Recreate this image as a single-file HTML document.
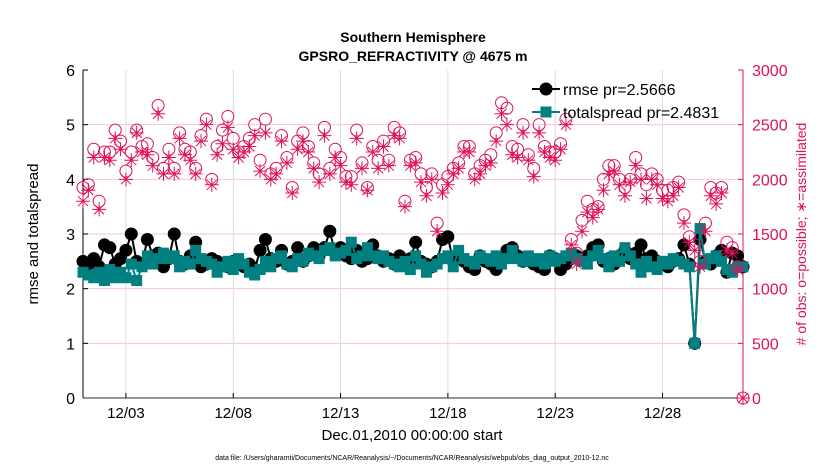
<!DOCTYPE html>
<html><head><meta charset="utf-8"><style>
body{margin:0;background:#fff;}
svg{font-family:"Liberation Sans",sans-serif;}
</style></head><body>
<svg id="chart" width="830" height="470">
<text x="413" y="42" font-size="14" font-weight="bold" text-anchor="middle">Southern Hemisphere</text>
<text x="413" y="61" font-size="14" font-weight="bold" text-anchor="middle">GPSRO_REFRACTIVITY @ 4675 m</text>
<g id="grid"></g><g id="axes"></g><g id="series"></g><g id="legend"></g>
<text transform="translate(38,234) rotate(-90)" font-size="15" text-anchor="middle">rmse and totalspread</text>
<text transform="translate(806,234) rotate(-90)" font-size="14" fill="#e0105a" text-anchor="middle"># of obs: o=possible; ∗=assimilated</text>
<text x="412" y="440" font-size="15" text-anchor="middle">Dec.01,2010 00:00:00 start</text>
<text x="412" y="460" font-size="7" text-anchor="middle">data file: /Users/gharamti/Documents/NCAR/Reanalysis/~/Documents/NCAR/Reanalysis/webpub/obs_diag_output_2010-12.nc</text>
</svg>
<script>
const xTickDays=[2,7,12,17,22,27];
const xTickLabels=["12/03","12/08","12/13","12/18","12/23","12/28"];
const yTicksLeft=[0,1,2,3,4,5,6];
const yTicksRight=[0,500,1000,1500,2000,2500,3000];
const rmse=[2.5,2.45,2.55,2.4,2.8,2.75,2.45,2.55,2.7,3.0,2.5,2.45,
2.9,2.6,2.65,2.4,2.55,3.0,2.5,2.45,2.6,2.85,2.4,2.45,
2.55,2.5,2.45,2.4,2.5,2.45,2.4,2.45,2.35,2.7,2.9,2.55,
2.5,2.7,2.45,2.5,2.75,2.5,2.6,2.75,2.6,2.75,3.05,2.65,
2.75,2.6,2.55,2.7,2.5,2.55,2.8,2.6,2.5,2.55,2.45,2.6,
2.45,2.55,2.85,2.5,2.45,2.4,2.5,2.9,2.95,2.5,2.55,2.5,
2.4,2.35,2.6,2.5,2.45,2.35,2.55,2.7,2.75,2.6,2.5,2.55,
2.45,2.4,2.35,2.6,2.55,2.35,2.45,2.55,2.6,2.55,2.6,2.75,
2.8,2.5,2.55,2.45,2.6,2.7,2.55,2.65,2.8,2.55,2.6,2.5,
2.45,2.4,2.5,2.55,2.8,2.45,1.0,2.9,2.5,2.45,2.6,2.7,2.3,2.65,2.6,2.4];
const spread=[2.3,2.25,2.2,2.3,2.15,2.35,2.2,2.3,2.2,2.45,2.15,2.4,
2.6,2.45,2.55,2.65,2.55,2.6,2.4,2.5,2.45,2.7,2.55,2.5,
2.45,2.3,2.4,2.5,2.35,2.55,2.45,2.3,2.25,2.35,2.5,2.4,
2.55,2.6,2.45,2.4,2.55,2.5,2.65,2.6,2.55,2.7,2.75,2.6,
2.65,2.7,2.85,2.55,2.6,2.75,2.6,2.55,2.6,2.5,2.45,2.4,
2.5,2.35,2.6,2.45,2.3,2.4,2.45,2.55,2.6,2.4,2.7,2.55,
2.5,2.45,2.6,2.55,2.5,2.6,2.45,2.55,2.7,2.55,2.5,2.6,
2.5,2.55,2.45,2.6,2.5,2.55,2.6,2.65,2.55,2.5,2.45,2.6,
2.7,2.55,2.4,2.6,2.5,2.75,2.6,2.45,2.3,2.5,2.4,2.35,
2.5,2.45,2.55,2.5,2.45,2.4,1.0,3.1,2.45,2.55,2.6,2.5,2.35,2.3,2.4,2.4];
const possible=[1925,1950,2275,1800,2250,2250,2450,2350,2075,2250,
2450,2300,2325,2200,2675,2100,2275,2100,2425,2275,
2250,2100,2400,2550,2000,2300,2450,2575,2375,2250,
2300,2375,2500,2175,2550,2050,2100,2400,2200,1925,
2350,2425,2300,2150,2050,2475,2100,2275,2200,2025,
2025,2450,2150,1925,2300,2175,2350,2175,2475,2425,
1800,2175,2200,2050,1925,2050,1600,1950,2025,2100,
2150,2300,2300,2050,2125,2175,2225,2425,2700,2650,
2300,2275,2500,2225,2100,2500,2300,2250,2250,2325,
2550,1450,1325,1625,1800,1725,1750,2000,2125,2125,
2000,1925,2000,2200,2050,1950,2050,2000,1900,1900,
1925,1975,1675,1475,1400,1250,1600,1925,1875,1925,
1425,1375,1200,0];
const assimilated=[1800,1900,2200,1725,2200,2175,2375,2275,2000,2175,
2425,2250,2225,2125,2600,2050,2200,2050,2375,2225,
2175,2050,2350,2500,1950,2225,2325,2475,2275,2200,
2250,2300,2400,2075,2425,2000,2050,2350,2150,1875,
2275,2350,2250,2100,1975,2400,2050,2200,2125,1975,
1950,2375,2100,1900,2250,2100,2300,2125,2400,2375,
1750,2125,2150,1975,1850,2000,1525,1875,1950,2050,
2100,2250,2250,2000,2050,2125,2150,2350,2600,2500,
2225,2200,2425,2175,2025,2425,2250,2200,2175,2275,
2500,1400,1225,1525,1700,1650,1725,1900,2050,2075,
1950,1850,1975,2125,2000,1825,2000,1950,1825,1800,
1850,1925,1600,1425,1350,1200,1525,1850,1775,1875,
1350,1325,1175,0];

const NS="http://www.w3.org/2000/svg";
const L=83,R=743,T=70,B=398,DMAX=30.75;
const xs=d=>L+(d/DMAX)*(R-L);
const yl=v=>B-(v/6)*(B-T);
const yr=v=>B-(v/3000)*(B-T);
const dayOf=i=>i*0.25;
function mk(tag,attrs,parent){const e=document.createElementNS(NS,tag);for(const k in attrs)e.setAttribute(k,attrs[k]);parent.appendChild(e);return e;}
const grid=document.getElementById('grid'),axes=document.getElementById('axes'),ser=document.getElementById('series'),leg=document.getElementById('legend');

yTicksLeft.forEach(v=>{if(v>0&&v<6){const g=mk('line',{x1:L,x2:R,y1:yl(v),y2:yl(v),stroke:'#f5c6d6','stroke-width':1},grid);

}
const t=mk('text',{x:L-8,y:yl(v)+6,'font-size':16,'text-anchor':'end'},axes);t.textContent=v;


mk('line',{x1:L,x2:L+5,y1:yl(v),y2:yl(v),stroke:'#000'},axes);});
yTicksRight.forEach(v=>{const t=mk('text',{x:R+9,y:yr(v)+6,'font-size':16,fill:'#e0105a'},axes);t.textContent=v;


mk('line',{x1:R-5,x2:R,y1:yr(v),y2:yr(v),stroke:'#e0105a'},axes);});
xTickDays.forEach((d,i)=>{const g=mk('line',{x1:xs(d),x2:xs(d),y1:T,y2:B,stroke:'#dcdcdc'},grid);


mk('line',{x1:xs(d),x2:xs(d),y1:B,y2:B-5,stroke:'#000'},axes);
const t=mk('text',{x:xs(d),y:B+20,'font-size':15,'text-anchor':'middle'},axes);t.textContent=xTickLabels[i];

});
const la=mk('line',{x1:L,x2:L,y1:T,y2:B,stroke:'#000'},axes);


const ba=mk('line',{x1:L,x2:R,y1:B,y2:B,stroke:'#3a2a2a'},axes);


const ra=mk('line',{x1:R,x2:R,y1:T,y2:B,stroke:'#e0105a'},axes);



// rmse
const rp=rmse.map((v,i)=>xs(dayOf(i))+','+yl(v)).join(' ');
const rl=mk('polyline',{points:rp,fill:'none',stroke:'#000','stroke-width':2},ser);


rmse.forEach((v,i)=>{const c=mk('circle',{cx:xs(dayOf(i)),cy:yl(v),r:6.5,fill:'#000'},ser);

});
// spread
const sp=spread.map((v,i)=>xs(dayOf(i))+','+yl(v)).join(' ');
const sl=mk('polyline',{points:sp,fill:'none',stroke:'#008080','stroke-width':2},ser);


spread.forEach((v,i)=>{const s=mk('rect',{x:xs(dayOf(i))-5.5,y:yl(v)-5.5,width:11,height:11,fill:'#008080'},ser);

});
// obs counts
possible.forEach((v,i)=>{const c=mk('circle',{cx:xs(dayOf(i)),cy:yr(v),r:6,fill:'none',stroke:'#e0105a','stroke-width':1},ser);

});
assimilated.forEach((v,i)=>{const x=xs(dayOf(i)),y=yr(v),s=7;
const g=mk('path',{d:`M${x-s},${y}H${x+s}M${x},${y-s}V${y+s}M${x-5},${y-5}L${x+5},${y+5}M${x-5},${y+5}L${x+5},${y-5}`,stroke:'#e0105a','stroke-width':1},ser);

});

// legend
const e1=mk('g',{},leg);


mk('line',{x1:532,x2:560,y1:89,y2:89,stroke:'#000','stroke-width':2},e1);
mk('circle',{cx:546,cy:89,r:6.5,fill:'#000'},e1);
const t1=mk('text',{x:563,y:95,'font-size':16},e1);t1.textContent='rmse pr=2.5666';
const e2=mk('g',{},leg);


mk('line',{x1:532,x2:560,y1:112,y2:112,stroke:'#008080','stroke-width':2},e2);
mk('rect',{x:540.5,y:106.5,width:11,height:11,fill:'#008080'},e2);
const t2=mk('text',{x:563,y:118,'font-size':16},e2);t2.textContent='totalspread pr=2.4831';
</script>
</body></html>
